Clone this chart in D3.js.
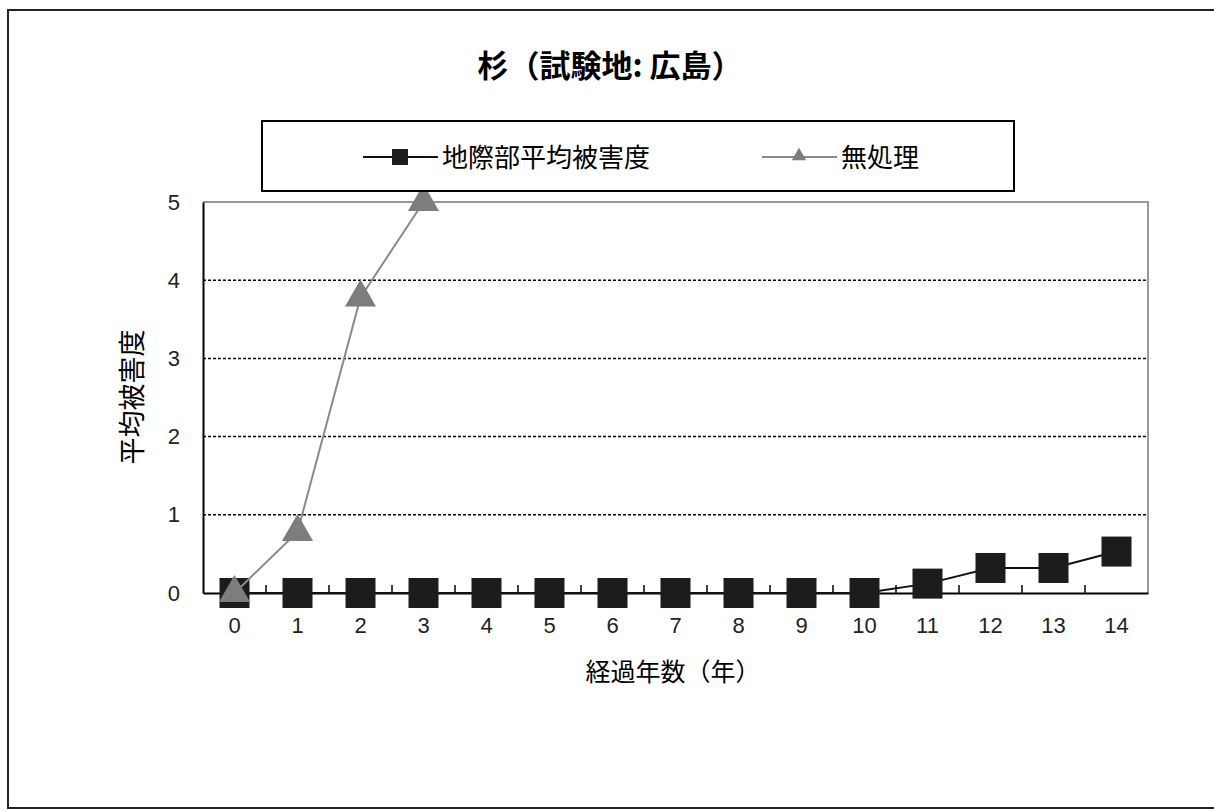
<!DOCTYPE html>
<html lang="ja">
<head>
<meta charset="UTF-8">
<title>杉(試験地: 広島)</title>
<script src="https://d3js.org/d3.v7.min.js"></script>
<style>
  body { margin: 0; background: #fff; }
  svg { display: block; }
  .jp { font-family: "Noto Sans CJK JP", sans-serif; }
  .num { font-family: "Liberation Sans", Arial, sans-serif; }
</style>
</head>
<body>
<div id="chart"></div>
<script>
// data
var years = [0, 1, 2, 3, 4, 5, 6, 7, 8, 9, 10, 11, 12, 13, 14];
var groundDamage = [0, 0, 0, 0, 0, 0, 0, 0, 0, 0, 0, 0.12, 0.32, 0.32, 0.53]; // 地際部平均被害度
var untreated = [0, 0.78, 3.78, 5.0];                                          // 無処理
var yTicks = [0, 1, 2, 3, 4, 5];
var seriesNames = ["地際部平均被害度", "無処理"];

var W = 1214, H = 810;
var plotL = 203, plotR = 1148, plotT = 202, plotB = 593;

var svg = d3.select("#chart").append("svg")
    .attr("width", W)
    .attr("height", H);

// outer frame
svg.append("rect")
    .attr("x", 8).attr("y", 10)
    .attr("width", 1210).attr("height", 798)
    .attr("fill", "#fff")
    .attr("stroke", "#222")
    .attr("stroke-width", 2);

var x = d3.scaleBand().domain(years).range([plotL, plotR]).padding(0);
var y = d3.scaleLinear().domain([0, 5]).range([plotB, plotT]);

// title
svg.append("text")
    .attr("class", "jp")
    .attr("x", 610).attr("y", 77)
    .attr("text-anchor", "middle")
    .style("font-size", "31px")
    .style("font-weight", "bold")
    .text("杉（試験地: 広島）");

// plot frame (gray top/right)
svg.append("path")
    .attr("d", `M${plotL},${plotT}H${plotR}V${plotB}`)
    .attr("fill", "none")
    .attr("stroke", "#999")
    .attr("stroke-width", 2);

// dashed gridlines
svg.append("g")
    .selectAll("line")
    .data(yTicks.filter(d => d > 0 && d < 5))
    .enter().append("line")
    .attr("x1", plotL).attr("x2", plotR)
    .attr("y1", d => y(d)).attr("y2", d => y(d))
    .attr("stroke", "#000")
    .attr("stroke-width", 1.5)
    .attr("stroke-dasharray", "3,2");

// y axis
var yAxis = svg.append("g")
    .attr("transform", `translate(${plotL},0)`)
    .call(d3.axisLeft(y).tickValues(yTicks).tickFormat(d3.format("d")).tickSize(0).tickPadding(23));
yAxis.select(".domain").attr("stroke", "#000").attr("stroke-width", 2);
yAxis.selectAll("text")
    .attr("class", "num")
    .style("font-size", "22px")
    .attr("fill", "#222");

// x axis: labels under band centers, ticks between categories pointing up
var xAxis = svg.append("g")
    .attr("transform", `translate(0,${plotB})`)
    .call(d3.axisBottom(x).tickSize(0).tickPadding(24));
xAxis.select(".domain").attr("stroke", "#000").attr("stroke-width", 2);
xAxis.selectAll("text")
    .attr("class", "num")
    .style("font-size", "22px")
    .attr("fill", "#222");

svg.append("g")
    .selectAll("line")
    .data(years.slice(1))
    .enter().append("line")
    .attr("x1", d => x(d)).attr("x2", d => x(d))
    .attr("y1", plotB).attr("y2", plotB - 8)
    .attr("stroke", "#000")
    .attr("stroke-width", 1.5);

// axis titles
svg.append("text")
    .attr("class", "jp")
    .attr("x", 673).attr("y", 681)
    .attr("text-anchor", "middle")
    .style("font-size", "25px")
    .text("経過年数（年）");

svg.append("text")
    .attr("class", "jp")
    .attr("transform", "translate(142,397) rotate(-90)")
    .attr("text-anchor", "middle")
    .style("font-size", "27px")
    .text("平均被害度");

var cx = d => x(d) + x.bandwidth() / 2;
var line = d3.line().x((d, i) => cx(years[i])).y(d => y(d));

// series 1: black squares
svg.append("path")
    .datum(groundDamage)
    .attr("d", line)
    .attr("fill", "none")
    .attr("stroke", "#111")
    .attr("stroke-width", 2);

svg.append("g")
    .selectAll("rect")
    .data(groundDamage)
    .enter().append("rect")
    .attr("x", (d, i) => cx(years[i]) - 15)
    .attr("y", d => y(d) - 15)
    .attr("width", 30).attr("height", 30)
    .attr("fill", "#1c1c1c");

// series 2: gray triangles
svg.append("path")
    .datum(untreated)
    .attr("d", line)
    .attr("fill", "none")
    .attr("stroke", "#8a8a8a")
    .attr("stroke-width", 2);

var tri = d3.symbol().type(d3.symbolTriangle).size(420);
svg.append("g")
    .selectAll("path")
    .data(untreated)
    .enter().append("path")
    .attr("d", tri)
    .attr("transform", (d, i) => `translate(${cx(years[i])},${y(d)})`)
    .attr("fill", "#7d7d7d");

// legend
var lg = svg.append("g");
lg.append("rect")
    .attr("x", 262).attr("y", 121)
    .attr("width", 752).attr("height", 70)
    .attr("fill", "#fff")
    .attr("stroke", "#000")
    .attr("stroke-width", 2);

var legendItems = [
    { name: seriesNames[0], x0: 363, color: "#111", marker: "square" },
    { name: seriesNames[1], x0: 762, color: "#8a8a8a", marker: "triangle" }
];
var ly = 157;
legendItems.forEach(function(it) {
    lg.append("line")
        .attr("x1", it.x0).attr("x2", it.x0 + 75)
        .attr("y1", ly).attr("y2", ly)
        .attr("stroke", it.color)
        .attr("stroke-width", 2);
    if (it.marker === "square") {
        lg.append("rect")
            .attr("x", it.x0 + 37 - 8).attr("y", ly - 8)
            .attr("width", 16).attr("height", 16)
            .attr("fill", "#1c1c1c");
    } else {
        lg.append("path")
            .attr("d", d3.symbol().type(d3.symbolTriangle).size(90))
            .attr("transform", `translate(${it.x0 + 37},${ly - 1})`)
            .attr("fill", "#7d7d7d");
    }
    lg.append("text")
        .attr("class", "jp")
        .attr("x", it.x0 + 79).attr("y", ly + 10)
        .style("font-size", "26px")
        .text(it.name);
});
</script>
</body>
</html>
